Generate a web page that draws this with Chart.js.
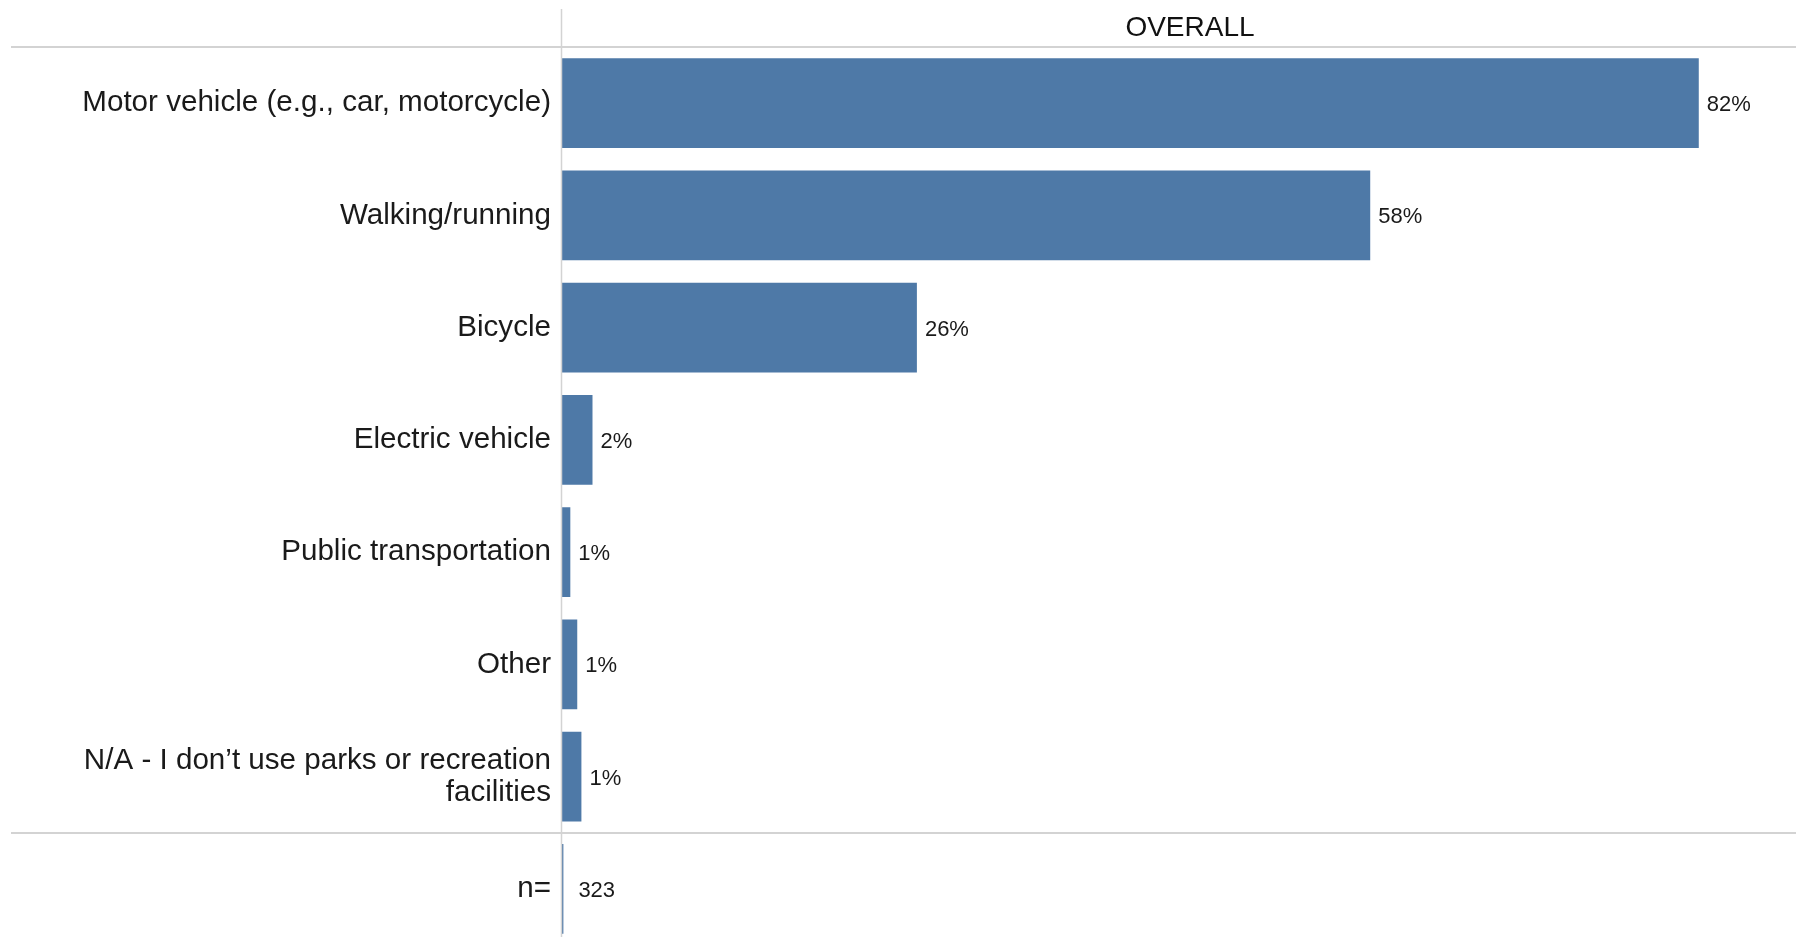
<!DOCTYPE html>
<html><head><meta charset="utf-8">
<script src="https://cdn.jsdelivr.net/npm/chart.js@4"></script>
<style>html,body{margin:0;padding:0;overflow:hidden;background:#fff}#wrap{width:1818px;height:945px;position:relative}</style>
</head><body><div id="wrap"><canvas id="c" width="1818" height="945"></canvas></div>
<script>
const categories = [
  "Motor vehicle (e.g., car, motorcycle)",
  "Walking/running",
  "Bicycle",
  "Electric vehicle",
  "Public transportation",
  "Other",
  ["N/A - I don\u2019t use parks or recreation", "facilities"],
  "n="
];
const shares = [82.0, 58.3, 25.6, 2.2, 0.6, 1.1, 1.4];
const sampleSize = 323;
const sampleBar = 0.1;
const columnTitle = "OVERALL";
const xMax = 90.6;

const barValues = shares.concat([sampleBar]);
const labelTexts = shares.map(v => Math.round(v) + '%').concat([String(sampleSize)]);

const FONT = '"Liberation Sans", Arial, sans-serif';

const guides = {
  id: 'guides',
  afterDatasetsDraw(chart) {
    const ctx = chart.ctx, y = chart.scales.y, area = chart.chartArea;
    const half = (y.getPixelForValue(1) - y.getPixelForValue(0)) / 2;
    ctx.save();
    ctx.strokeStyle = '#d3d3d3';
    ctx.lineWidth = 2;
    [0, categories.length - 1].forEach(i => {
      const py = Math.round(y.getPixelForValue(i) - half);
      ctx.beginPath(); ctx.moveTo(11, py); ctx.lineTo(chart.width, py); ctx.stroke();
    });
    ctx.lineWidth = 1.5;
    ctx.beginPath(); ctx.moveTo(area.left - 0.5, 9); ctx.lineTo(area.left - 0.5, chart.height); ctx.stroke();
    ctx.restore();
  }
};

const valueLabels = {
  id: 'valueLabels',
  afterDatasetsDraw(chart) {
    const ctx = chart.ctx, meta = chart.getDatasetMeta(0);
    ctx.save();
    ctx.font = '22px ' + FONT;
    ctx.fillStyle = '#1a1a1a';
    ctx.textBaseline = 'middle';
    ctx.textAlign = 'left';
    meta.data.forEach((bar, i) => {
      const off = i === categories.length - 1 ? 15 : 8;
      ctx.fillText(labelTexts[i], bar.x + off, bar.y + 2);
    });
    ctx.restore();
  }
};

new Chart(document.getElementById('c'), {
  type: 'bar',
  data: {
    labels: categories,
    datasets: [{
      data: barValues,
      backgroundColor: '#4e79a7',
      borderWidth: 0,
      barPercentage: 0.8,
      categoryPercentage: 1.0
    }]
  },
  options: {
    indexAxis: 'y',
    responsive: false,
    animation: false,
    devicePixelRatio: 1,
    layout: { padding: { top: 11, left: 0, right: 0, bottom: 0 } },
    plugins: { legend: { display: false }, tooltip: { enabled: false }, title: { display: false } },
    scales: {
      x: {
        type: 'linear', position: 'top', min: 0, max: xMax,
        ticks: { display: false },
        grid: { display: false, drawTicks: false },
        border: { display: false },
        title: { display: true, text: columnTitle, color: '#111', font: { family: FONT, size: 28, lineHeight: 1.2 }, padding: { top: 0, bottom: 2.4 } }
      },
      y: {
        type: 'category',
        ticks: { color: '#1a1a1a', font: { family: FONT, size: 29.6, lineHeight: 1.08 }, padding: 11, autoSkip: false },
        grid: { display: false, drawTicks: false },
        border: { display: false },
        afterFit(scale) { scale.width = 562; scale.paddingTop = 0; scale.paddingBottom = 0; }
      }
    }
  },
  plugins: [guides, valueLabels]
});
</script></body></html>
